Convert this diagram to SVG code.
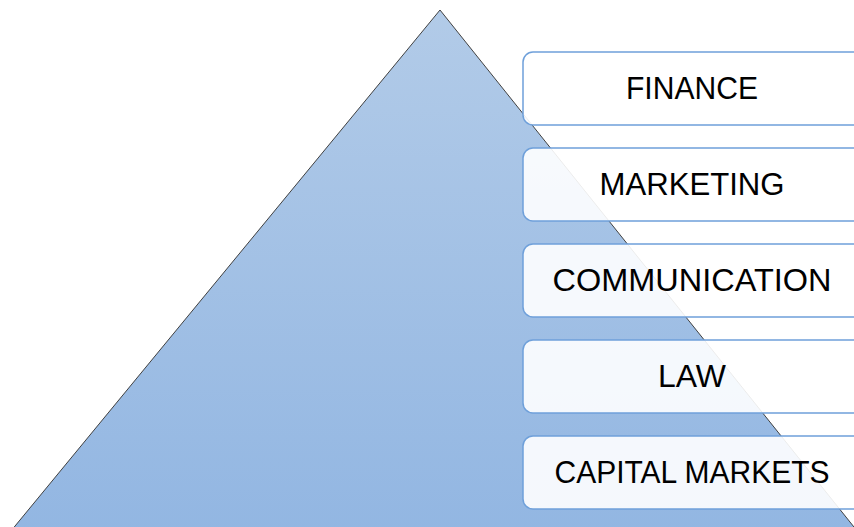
<svg xmlns="http://www.w3.org/2000/svg" width="854" height="527" viewBox="0 0 854 527">
<defs>
<linearGradient id="tri" x1="0" y1="0" x2="0" y2="1">
<stop offset="0" stop-color="#b2cbe8"/>
<stop offset="1" stop-color="#92b6e2"/>
</linearGradient>
<style>
.box{fill:#ffffff;fill-opacity:0.9;stroke:#6fa0da;stroke-width:1.5}
.lbl{font-family:"Liberation Sans",Arial,sans-serif;font-size:32px;fill:#000;text-anchor:middle}
</style>
</defs>
<rect width="854" height="527" fill="#ffffff"/>
<g id="pyramid">
<polygon points="440,10 862,537 6,537" fill="url(#tri)" stroke="#404040" stroke-width="1"/>
</g>
<g id="connectors"/>
<g id="finance"><rect class="box" x="523" y="52" width="340" height="73" rx="10"/><text class="lbl" x="692" y="99" textLength="132" lengthAdjust="spacingAndGlyphs">FINANCE</text></g>
<g id="marketing"><rect class="box" x="523" y="148" width="340" height="73" rx="10"/><text class="lbl" x="692" y="195" textLength="185" lengthAdjust="spacingAndGlyphs">MARKETING</text></g>
<g id="communication"><rect class="box" x="523" y="244" width="340" height="73" rx="10"/><text class="lbl" x="692" y="291" textLength="279" lengthAdjust="spacingAndGlyphs">COMMUNICATION</text></g>
<g id="law"><rect class="box" x="523" y="340" width="340" height="73" rx="10"/><text class="lbl" x="692" y="387" textLength="68" lengthAdjust="spacingAndGlyphs">LAW</text></g>
<g id="capital-markets"><rect class="box" x="523" y="436" width="340" height="73" rx="10"/><text class="lbl" x="692" y="483" textLength="275" lengthAdjust="spacingAndGlyphs">CAPITAL MARKETS</text></g>
</svg>
